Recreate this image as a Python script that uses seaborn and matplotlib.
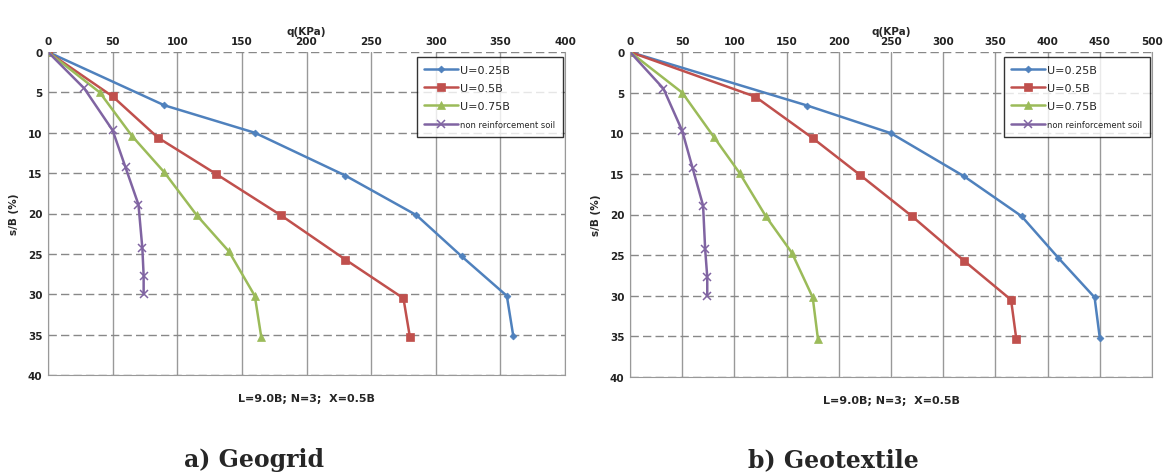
import numpy as np
import pandas as pd
import matplotlib
matplotlib.use('Agg')
import matplotlib.pyplot as plt
import seaborn as sns

# settlement ratio s/B (%) for each series
s_025 = [0, 6.6, 10, 15.3, 20.2, 25.3, 30.2, 35.2]
s_05 = [0, 5.5, 10.6, 15.1, 20.2, 25.7, 30.5, 35.3]
s_075 = [0, 5.0, 10.4, 14.9, 20.2, 24.7, 30.2, 35.3]
s_non = [0, 4.5, 9.7, 14.3, 18.9, 24.3, 27.7, 30.0]

# a) Geogrid, q (KPa)
geogrid_025 = [0, 90, 160, 230, 285, 320, 355, 360]
geogrid_05 = [0, 50, 85, 130, 180, 230, 275, 280]
geogrid_075 = [0, 40, 65, 90, 115, 140, 160, 165]
geogrid_non = [0, 28, 50, 60, 70, 73, 74, 74]

# b) Geotextile, q (KPa)
geotex_025 = [0, 170, 250, 320, 375, 410, 445, 450]
geotex_05 = [0, 120, 175, 220, 270, 320, 365, 370]
geotex_075 = [0, 50, 80, 105, 130, 155, 175, 180]
geotex_non = [0, 32, 50, 60, 70, 72, 74, 74]

labels = ['U=0.25B', 'U=0.5B', 'U=0.75B', 'non reinforcement soil']
colors = ['#4F81BD', '#C0504D', '#9BBB59', '#8064A2']
markers = ['D', 's', '^', 'x']
msizes = [3.5, 6, 6, 6]

sns.set_style('white')
plt.rcParams['font.family'] = ['DejaVu Sans']

fig = plt.figure(figsize=(11.63, 4.77), dpi=100)
ax1 = fig.add_axes([48 / 1163, 1 - 376 / 477, 517 / 1163, 323 / 477])
ax2 = fig.add_axes([630 / 1163, 1 - 378 / 477, 522 / 1163, 325 / 477])


def draw(ax, qs, xmax, caption, cx):
    ss = [s_025, s_05, s_075, s_non]
    for q, s, lab, c, m, ms in zip(qs, ss, labels, colors, markers, msizes):
        df = pd.DataFrame({'q': q, 's': s})
        sns.lineplot(data=df, x='q', y='s', sort=False, estimator=None, ax=ax,
                     color=c, marker=m, markersize=ms, markeredgecolor=c,
                     markeredgewidth=1.1 if m == 'x' else 0.5,
                     linewidth=1.8, label=lab)
    ax.set_xlim(0, xmax)
    ax.set_ylim(40, 0)
    ax.set_xticks(np.arange(0, xmax + 1, 50))
    ax.set_yticks(np.arange(0, 41, 5))
    ax.xaxis.tick_top()
    ax.xaxis.set_label_position('top')
    ax.set_xlabel('q(KPa)', fontsize=7.5, fontweight='bold', labelpad=2)
    ax.set_ylabel('s/B (%)', fontsize=7.5, fontweight='bold', labelpad=6)
    ax.tick_params(labelsize=7.5, length=0, pad=4)
    for t in ax.get_xticklabels() + ax.get_yticklabels():
        t.set_fontweight('bold')
        t.set_color('#222222')
    ax.grid(axis='x', color='#999999', linewidth=1.0, linestyle='-')
    ax.grid(axis='y', color='#888888', linewidth=1.0, linestyle=(0, (6, 3)))
    for sp in ax.spines.values():
        sp.set_color('#999999')
    ax.spines['top'].set_visible(False)
    leg = ax.legend(loc='upper right', fontsize=8, frameon=True, fancybox=False,
                    handlelength=3, borderpad=0.7, labelspacing=0.75,
                    handletextpad=0.2, borderaxespad=0,
                    bbox_to_anchor=(0.996, 0.985))
    leg.get_frame().set_edgecolor('black')
    leg.get_frame().set_linewidth(1.0)
    leg.get_texts()[3].set_fontsize(6)
    ax.text(0.5, -0.07, 'L=9.0B; N=3;  X=0.5B', transform=ax.transAxes,
            ha='center', va='center', fontsize=8, fontweight='bold')
    fig.text(cx / 1163, 1 - 460 / 477, caption, ha='center', va='center',
             fontsize=17, fontweight='bold', family='DejaVu Serif')


draw(ax1, [geogrid_025, geogrid_05, geogrid_075, geogrid_non], 400, 'a) Geogrid', 254)
draw(ax2, [geotex_025, geotex_05, geotex_075, geotex_non], 500, 'b) Geotextile', 833)

fig.savefig('out.png', dpi=100)
